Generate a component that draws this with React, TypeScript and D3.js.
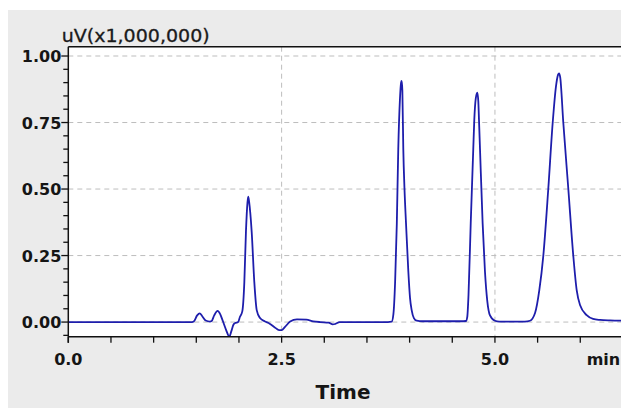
import React, { useEffect, useRef } from "react";
import * as d3 from "d3";

// retention time (min) and detector signal (uV x 1,000,000)
const times = [
  0.0, 1.45, 1.47, 1.51, 1.54, 1.57, 1.61, 1.66, 1.68, 1.71, 1.75, 1.78, 1.81, 1.85, 1.887, 1.91,
  1.935, 1.954, 1.99, 2.012, 2.039, 2.063, 2.082, 2.1, 2.109, 2.12, 2.149, 2.18, 2.208, 2.247,
  2.3, 2.36, 2.42, 2.47, 2.5, 2.54, 2.6, 2.68, 2.79, 2.87, 2.95, 3.05, 3.1, 3.13, 3.18, 3.5,
  3.7, 3.79, 3.81, 3.83, 3.85, 3.867, 3.887, 3.9, 3.907, 3.915, 3.926, 3.94, 3.958, 3.985,
  4.005, 4.024, 4.05, 4.083, 4.15, 4.6, 4.66, 4.676, 4.69, 4.716, 4.746, 4.758, 4.775, 4.793,
  4.805, 4.813, 4.825, 4.856, 4.883, 4.91, 4.942, 5.0, 5.05, 5.35, 5.41, 5.47, 5.52, 5.567,
  5.625, 5.677, 5.715, 5.74, 5.751, 5.765, 5.801, 5.86, 5.918, 5.958, 5.997, 6.075, 6.15,
  6.231, 6.35, 6.5,
];
const signal = [
  0.0, 0.0, 0.002, 0.025, 0.033, 0.022, 0.006, 0.002, 0.004, 0.025, 0.042, 0.03, 0.005, -0.03,
  -0.055, -0.035, -0.01, -0.004, 0.0, 0.02, 0.04, 0.15, 0.34, 0.45, 0.471, 0.45, 0.34, 0.15,
  0.045, 0.015, 0.003, -0.006, -0.02, -0.03, -0.03, -0.018, 0.002, 0.01, 0.009, 0.003, 0.0,
  -0.002, -0.009, -0.007, 0.0, 0.0, 0.0, 0.002, 0.03, 0.15, 0.37, 0.65, 0.84, 0.9, 0.906, 0.87,
  0.65, 0.5, 0.37, 0.19, 0.09, 0.045, 0.015, 0.005, 0.003, 0.003, 0.004, 0.02, 0.1, 0.37, 0.65,
  0.76, 0.84, 0.862, 0.83, 0.76, 0.65, 0.37, 0.19, 0.08, 0.025, 0.005, 0.002, 0.002, 0.005,
  0.034, 0.12, 0.25, 0.5, 0.75, 0.885, 0.93, 0.935, 0.92, 0.75, 0.5, 0.25, 0.12, 0.064, 0.026,
  0.012, 0.008, 0.006, 0.005,
];

const yMajor = [0.0, 0.25, 0.5, 0.75, 1.0];
const yLabels = ["0.00", "0.25", "0.50", "0.75", "1.00"];
const xMajor = [0.0, 2.5, 5.0];
const xLabels = ["0.0", "2.5", "5.0"];

export default function App() {
  const ref = useRef<SVGSVGElement>(null);

  useEffect(() => {
    const svg = d3.select(ref.current);
    svg.selectAll("*").remove();

    const W = 621, H = 408;
    const left = 68.3, top = 46.7, bottom = 336.7;
    const font = "'DejaVu Sans', Verdana, sans-serif";

    const x = d3.scaleLinear().domain([0, 7]).range([left, 665.6]);
    const y = d3.scaleLinear().domain([-0.055, 1.035]).range([bottom, top]);

    svg.append("rect").attr("width", W).attr("height", H).attr("fill", "#ffffff");
    svg.append("rect").attr("x", 8).attr("y", 10).attr("width", W - 8).attr("height", H - 10)
      .attr("fill", "#ebebeb");

    svg.append("rect").attr("x", left).attr("y", top).attr("width", 700).attr("height", bottom - top)
      .attr("fill", "#ffffff");

    svg.append("clipPath").attr("id", "plot-clip")
      .append("rect").attr("x", left).attr("y", top).attr("width", 700).attr("height", bottom - top);

    // grid
    const grid = svg.append("g").attr("stroke", "#bdbdbd").attr("stroke-width", 1)
      .attr("stroke-dasharray", "5,4");
    grid.selectAll("line.h").data(yMajor).join("line")
      .attr("x1", left).attr("x2", W)
      .attr("y1", d => y(d)).attr("y2", d => y(d));
    grid.selectAll("line.v").data(xMajor.slice(1)).join("line")
      .attr("x1", d => x(d)).attr("x2", d => x(d))
      .attr("y1", top).attr("y2", bottom);

    // trace
    const pts = times.map((t, i) => [t, signal[i]] as [number, number]);
    const line = d3.line<[number, number]>()
      .x(d => x(d[0]))
      .y(d => y(d[1]))
      .curve(d3.curveMonotoneX);
    svg.append("path")
      .attr("clip-path", "url(#plot-clip)")
      .attr("d", line(pts))
      .attr("fill", "none")
      .attr("stroke", "#1e1eac")
      .attr("stroke-width", 1.8);

    // frame
    svg.append("line").attr("x1", left).attr("x2", W).attr("y1", top).attr("y2", top)
      .attr("stroke", "#111").attr("stroke-width", 1.5);
    svg.append("line").attr("x1", left).attr("x2", W).attr("y1", bottom).attr("y2", bottom)
      .attr("stroke", "#111").attr("stroke-width", 1.5);
    svg.append("line").attr("x1", left).attr("x2", left).attr("y1", top).attr("y2", bottom + 6)
      .attr("stroke", "#111").attr("stroke-width", 1.5);

    // y ticks every 0.05
    const yTicks = d3.range(-1, 21).map(i => i * 0.05);
    svg.append("g").selectAll("line").data(yTicks).join("line")
      .attr("x1", (d, i) => ((i - 1) % 5 === 0 ? left - 7 : left - 5)).attr("x2", left)
      .attr("y1", d => y(d)).attr("y2", d => y(d))
      .attr("stroke", "#111").attr("stroke-width", 1.3);

    // x ticks every 0.5
    const xTicks = d3.range(0, 14).map(i => i * 0.5);
    svg.append("g").selectAll("line").data(xTicks).join("line")
      .attr("x1", d => x(d)).attr("x2", d => x(d))
      .attr("y1", bottom).attr("y2", bottom + 6)
      .attr("stroke", "#111").attr("stroke-width", 1.3);

    svg.append("g").selectAll("text").data(yMajor).join("text")
      .attr("x", left - 7).attr("y", d => y(d) + 6)
      .attr("text-anchor", "end")
      .attr("font-family", font).attr("font-weight", "bold").attr("font-size", 16)
      .attr("fill", "#151515")
      .text((d, i) => yLabels[i]);

    svg.append("g").selectAll("text").data(xMajor).join("text")
      .attr("x", d => x(d)).attr("y", 365)
      .attr("text-anchor", "middle")
      .attr("font-family", font).attr("font-weight", "bold").attr("font-size", 16)
      .attr("fill", "#151515")
      .text((d, i) => xLabels[i]);

    svg.append("text").attr("x", 586.7).attr("y", 365)
      .attr("font-family", font).attr("font-weight", "bold").attr("font-size", 16)
      .attr("fill", "#151515").text("min");

    svg.append("text").attr("x", 343).attr("y", 399).attr("text-anchor", "middle")
      .attr("font-family", font).attr("font-weight", "bold").attr("font-size", 20)
      .attr("fill", "#151515").text("Time");

    svg.append("text").attr("x", 61.7).attr("y", 41.7)
      .attr("font-family", font).attr("font-size", 17)
      .attr("textLength", 148).attr("lengthAdjust", "spacingAndGlyphs")
      .attr("fill", "#1a1a1a").attr("stroke", "#1a1a1a").attr("stroke-width", 0.3)
      .text("uV(x1,000,000)");
  }, []);

  return (
    <svg ref={ref} width={621} height={408}
      style={{ position: "absolute", left: 0, top: 0, display: "block" }} />
  );
}
